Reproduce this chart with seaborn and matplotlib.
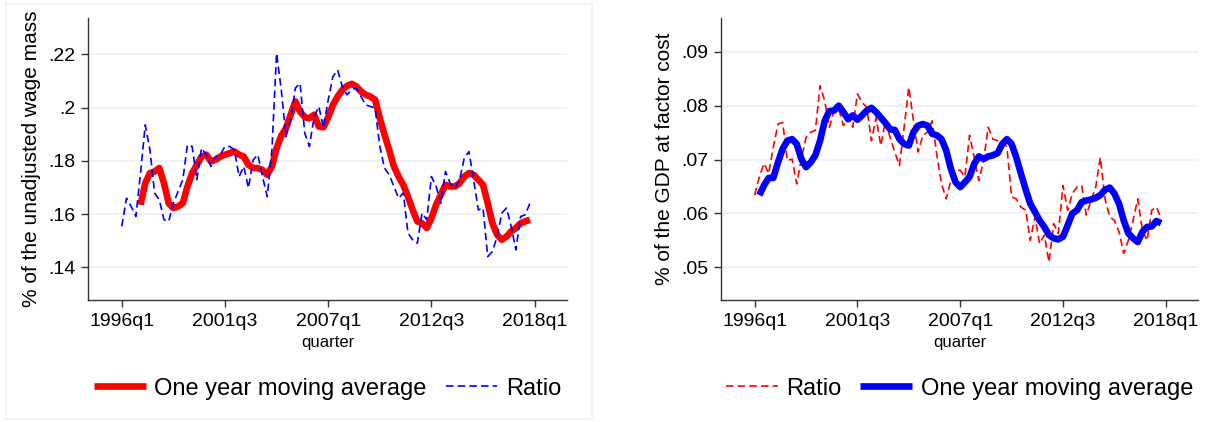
import numpy as np
import pandas as pd
import matplotlib
matplotlib.use('Agg')
import matplotlib.pyplot as plt
from matplotlib.patches import Rectangle
import seaborn as sns

# quarters 1996q1 .. 2017q4
quarters = pd.period_range('1996Q1', '2017Q4', freq='Q')
tick_labels = ['1996q1', '2001q3', '2007q1', '2012q3', '2018q1']
tick_pos = [0, 22, 44, 66, 88]

# left panel: share of the unadjusted wage mass
wage_ratio = [
    .1554, .1660, .1629, .1591, .1754, .1935, .1841, .1679, .1654, .1579,
    .1573, .1641, .1685, .1729, .1860, .1854, .1729, .1848, .1823, .1779,
    .1816, .1823, .1854, .1854, .1841, .1741, .1779, .1698, .1804, .1823,
    .1741, .1666, .1841, .2204, .2066, .1891, .1954, .2073, .2091, .1904,
    .1854, .1966, .2004, .1923, .2029, .2116, .2141, .2079, .2048, .2066,
    .2073, .2041, .2010, .2004, .1998, .1854, .1773, .1748, .1704, .1660,
    .1679, .1529, .1504, .1491, .1604, .1579, .1741, .1704, .1641, .1760,
    .1716, .1698, .1729, .1810, .1835, .1729, .1616, .1623, .1441, .1460,
    .1516, .1604, .1623, .1554, .1466, .1591, .1598, .1641]
wage_ma_start = 4
wage_ma = [
    .1635, .1716, .1754, .1760, .1773, .1716, .1641, .1623, .1629, .1641,
    .1704, .1754, .1785, .1816, .1823, .1798, .1804, .1816, .1823, .1829,
    .1835, .1823, .1816, .1785, .1773, .1773, .1766, .1748, .1779, .1848,
    .1894, .1923, .1973, .2023, .1985, .1964, .1960, .1973, .1929, .1926,
    .1964, .2010, .2041, .2066, .2081, .2089, .2079, .2060, .2048, .2041,
    .2029, .1960, .1898, .1841, .1779, .1741, .1710, .1666, .1616, .1573,
    .1566, .1548, .1585, .1635, .1673, .1710, .1704, .1704, .1716, .1741,
    .1754, .1748, .1729, .1710, .1641, .1566, .1523, .1504, .1516, .1535,
    .1548, .1566, .1573, .1579]

# right panel: share of GDP at factor cost
gdp_ratio = [
    .0634, .0668, .0693, .0674, .0723, .0766, .0769, .0698, .0701, .0655,
    .0701, .0741, .0751, .0754, .0837, .0809, .0760, .0791, .0794, .0763,
    .0778, .0760, .0822, .0806, .0797, .0735, .0778, .0726, .0772, .0741,
    .0714, .0689, .0760, .0834, .0772, .0714, .0745, .0751, .0772, .0708,
    .0655, .0627, .0661, .0680, .0680, .0668, .0745, .0704, .0661, .0698,
    .0760, .0738, .0735, .0735, .0723, .0631, .0627, .0612, .0606, .0550,
    .0594, .0544, .0560, .0510, .0581, .0563, .0652, .0606, .0637, .0649,
    .0652, .0597, .0624, .0649, .0704, .0627, .0594, .0587, .0566, .0526,
    .0550, .0587, .0627, .0569, .0550, .0606, .0612, .0591]
gdp_ma_start = 1
gdp_ma = [
    .0634, .0652, .0666, .0666, .0695, .0720, .0735, .0738, .0729, .0701,
    .0686, .0695, .0708, .0735, .0772, .0790, .0791, .0800, .0788, .0775,
    .0782, .0774, .0782, .0791, .0796, .0788, .0778, .0768, .0756, .0755,
    .0738, .0729, .0726, .0751, .0763, .0766, .0763, .0748, .0745, .0738,
    .0717, .0683, .0658, .0649, .0658, .0668, .0692, .0706, .0701, .0706,
    .0708, .0712, .0729, .0738, .0729, .0704, .0674, .0645, .0618, .0603,
    .0587, .0575, .0560, .0554, .0552, .0557, .0578, .0600, .0606, .0621,
    .0624, .0626, .0629, .0634, .0644, .0648, .0637, .0618, .0587, .0563,
    .0554, .0547, .0566, .0575, .0576, .0586, .0582]

RED = '#ff0000'
BLUE = '#0000ff'
GRID = '#e8f0f2'

sns.set_theme(style='white')
plt.rcParams['font.family'] = ['Liberation Sans', 'DejaVu Sans']
plt.rcParams['text.color'] = 'black'
plt.rcParams['axes.labelcolor'] = 'black'
plt.rcParams['xtick.color'] = 'black'
plt.rcParams['ytick.color'] = 'black'

fig = plt.figure(figsize=(12.08, 4.22), dpi=100)
W, H = 1208, 422


def px_axes(x0, y0, x1, y1):
    return fig.add_axes([x0 / W, 1 - y1 / H, (x1 - x0) / W, (y1 - y0) / H])


def stata_fmt(v):
    s = f'{v:.2f}'.rstrip('0').rstrip('.')
    return s.lstrip('0') if s.startswith('0') else s


def style_axes(ax, yticks, ylim, ylabel):
    ax.set_xlim(-7.2, 94.9)
    ax.set_ylim(*ylim)
    ax.set_xticks(tick_pos)
    ax.set_xticklabels(tick_labels, fontsize=14)
    ax.set_yticks(yticks)
    ax.set_yticklabels([stata_fmt(v) for v in yticks], fontsize=14)
    ax.set_xlabel('quarter', fontsize=12, labelpad=4)
    ax.set_ylabel(ylabel, fontsize=15, labelpad=5)
    ax.yaxis.grid(True, color=GRID, lw=1.1)
    ax.xaxis.grid(False)
    for s in ['top', 'right']:
        ax.spines[s].set_visible(False)
    for s in ['left', 'bottom']:
        ax.spines[s].set_color('#333333')
        ax.spines[s].set_linewidth(1.0)
    ax.tick_params(axis='both', direction='out', length=5, width=1,
                   color='#333333', labelcolor='black', pad=4,
                   left=True, bottom=True)


def add_legend(ax, handles, labels):
    leg = ax.legend(handles, labels, loc='upper center', bbox_to_anchor=(0.5, -0.2),
                    ncol=2, frameon=False, fontsize=17, handlelength=2.2,
                    handletextpad=0.35, columnspacing=0.8)
    for t in leg.get_texts():
        t.set_color('black')


x_all = np.arange(len(quarters))

# left
ax1 = px_axes(88, 18, 567, 300)
df_w = pd.DataFrame({'q': x_all, 'ratio': wage_ratio})
df_wma = pd.DataFrame({'q': x_all[wage_ma_start:], 'ma': wage_ma})
sns.lineplot(data=df_wma, x='q', y='ma', ax=ax1, color=RED, linewidth=4.8,
             solid_joinstyle='round', solid_capstyle='butt', label='One year moving average')
sns.lineplot(data=df_w, x='q', y='ratio', ax=ax1, color=BLUE, linewidth=1.2,
             linestyle=(0, (4.5, 2.5)), label='Ratio')
style_axes(ax1, [.14, .16, .18, .20, .22], (0.1278, 0.2336), '% of the unadjusted wage mass')
h, l = ax1.get_legend_handles_labels()
add_legend(ax1, h, l)

# right
ax2 = px_axes(721, 18, 1198, 300)
df_g = pd.DataFrame({'q': x_all, 'ratio': gdp_ratio})
df_gma = pd.DataFrame({'q': x_all[gdp_ma_start:], 'ma': gdp_ma})
sns.lineplot(data=df_g, x='q', y='ratio', ax=ax2, color=RED, linewidth=1.2,
             linestyle=(0, (4.5, 2.5)), label='Ratio')
sns.lineplot(data=df_gma, x='q', y='ma', ax=ax2, color=BLUE, linewidth=4.8,
             solid_joinstyle='round', solid_capstyle='butt', label='One year moving average')
style_axes(ax2, [.05, .06, .07, .08, .09], (0.04395, 0.09627), '% of the GDP at factor cost')
h, l = ax2.get_legend_handles_labels()
add_legend(ax2, h, l)

# faint frame around the left graph region
fig.patches.append(Rectangle((6 / W, 3 / H), 586 / W, 415 / H, transform=fig.transFigure,
                             fill=False, edgecolor='#eef2f3', lw=1.2))

fig.savefig('out.png', dpi=100, facecolor='white')
